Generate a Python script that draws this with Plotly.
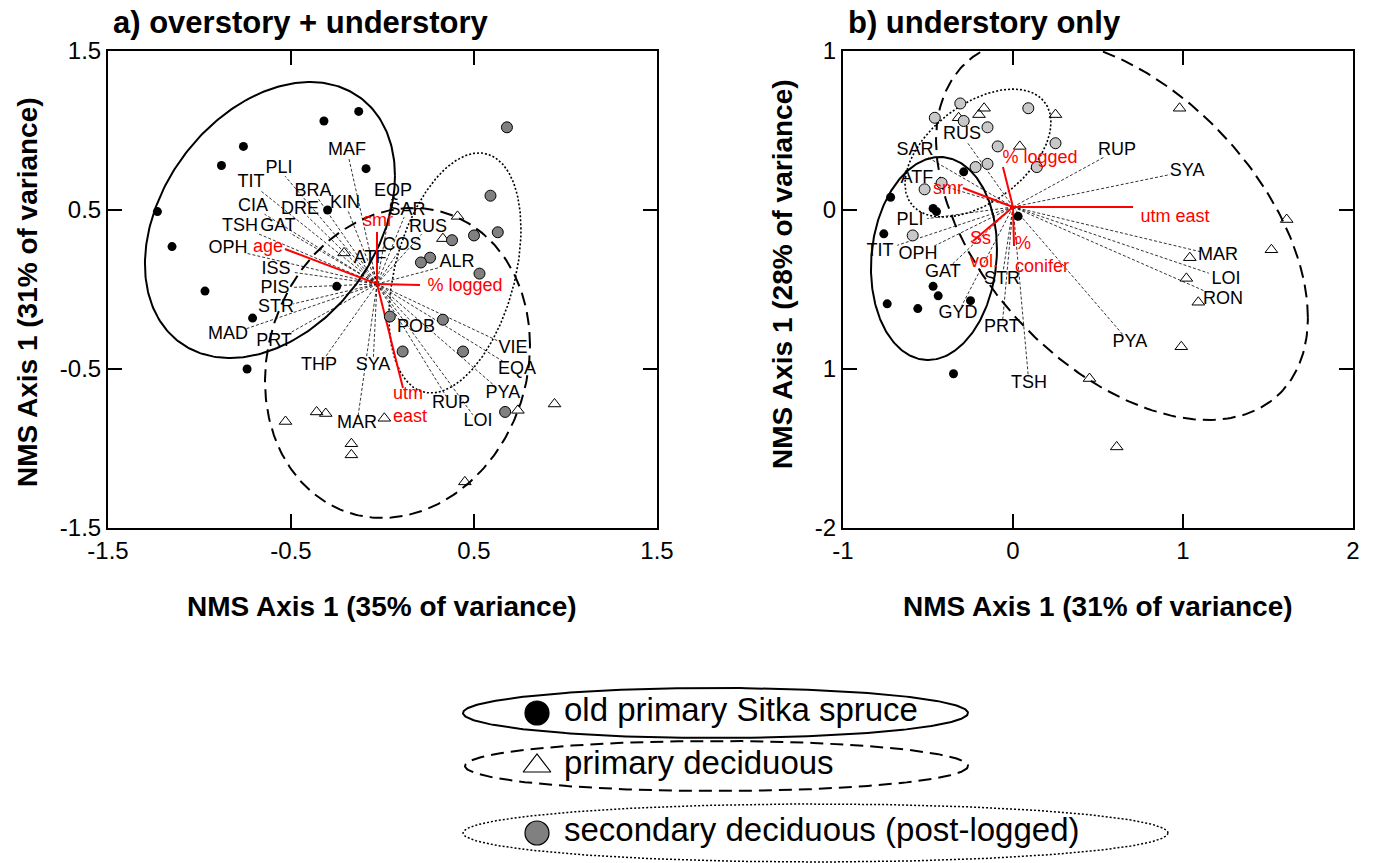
import numpy as np
import plotly.graph_objects as go

W, H = 1379, 863
FONT = "Liberation Sans, Arial, sans-serif"

# ---------------- Panel a: overstory + understory ----------------
a_old_x = [-0.13, -0.32, -0.76, -0.88, -0.09, -0.30, -1.23, -1.15, -0.97, -0.25, -0.71, -0.74]
a_old_y = [1.12, 1.06, 0.90, 0.78, 0.76, 0.50, 0.49, 0.27, -0.01, 0.02, -0.18, -0.50]
a_pri_x = [0.41, 0.33, -0.21, -0.53, -0.36, -0.31, 0.01, -0.17, -0.17, 0.45, 0.74, 0.94]
a_pri_y = [0.46, 0.32, 0.23, -0.83, -0.77, -0.78, -0.81, -0.97, -1.04, -1.21, -0.76, -0.72]
a_sec_x = [0.68, 0.59, 0.63, 0.50, 0.38, 0.26, 0.21, 0.53, 0.04, 0.33, 0.11, 0.44, 0.67]
a_sec_y = [1.02, 0.59, 0.36, 0.34, 0.31, 0.20, 0.17, 0.10, -0.17, -0.19, -0.39, -0.39, -0.77]

a_origin = (-0.03, 0.035)
a_species = ["MAF", "PLI", "TIT", "BRA", "KIN", "CIA", "DRE", "EQP", "SAR", "TSH", "GAT", "RUS",
             "COS", "OPH", "ATF", "ALR", "ISS", "PIS", "STR", "MAD", "PRT", "POB", "THP", "SYA",
             "VIE", "EQA", "PYA", "RUP", "MAR", "LOI"]
a_species_x = [-0.194, -0.566, -0.719, -0.380, -0.205, -0.708, -0.451, 0.057, 0.134, -0.779, -0.571, 0.249,
               0.107, -0.844, -0.068, 0.407, -0.582, -0.587, -0.582, -0.844, -0.593, 0.183, -0.347, -0.052,
               0.713, 0.735, 0.658, 0.374, -0.139, 0.522]
a_species_y = [0.877, 0.758, 0.670, 0.619, 0.544, 0.519, 0.506, 0.615, 0.500, 0.399, 0.399, 0.393,
               0.274, 0.255, 0.198, 0.167, 0.123, 0.009, -0.116, -0.286, -0.330, -0.236, -0.481, -0.481,
               -0.368, -0.506, -0.651, -0.720, -0.840, -0.833]

a_env = ["age", "smr", "% logged", "utm<br>east"]
a_env_x = [-0.533, -0.030, 0.205, 0.112]
a_env_y = [0.255, 0.362, 0.028, -0.619]
a_env_lab_x = [-0.626, -0.025, 0.451, 0.057]
a_env_lab_y = [0.267, 0.425, 0.016, -0.733]
a_env_pos = ["middle center", "middle center", "middle center", "middle right"]

# ellipses: centre (x, y) and shape matrix (sxx, syy, sxy)
a_ell_old = [(-0.615, 0.437), (0.4666, 0.7533, 0.1897)]
a_ell_pri = [(0.082, -0.462), (0.5242, 0.9503, 0.0820)]
a_ell_sec = [(0.396, 0.104), (0.1301, 0.5696, 0.0990)]

# ---------------- Panel b: understory only ----------------
b_old_x = [-0.29, -0.72, -0.47, -0.45, -0.76, 0.03, -0.47, -0.44, -0.74, -0.56, -0.25, -0.35]
b_old_y = [0.24, 0.08, 0.01, -0.01, -0.15, -0.04, -0.48, -0.54, -0.59, -0.62, -0.57, -1.03]
b_pri_x = [-0.17, -0.20, -0.32, 0.25, 0.04, 0.98, 1.61, 1.52, 1.04, 1.02, 1.09, 0.99, 0.45, 0.61]
b_pri_y = [0.64, 0.60, 0.58, 0.60, 0.40, 0.64, -0.06, -0.25, -0.30, -0.43, -0.58, -0.86, -1.06, -1.49]
b_sec_x = [-0.31, -0.46, -0.29, -0.15, 0.09, -0.09, 0.25, -0.22, -0.15, 0.14, -0.42, -0.52, -0.59]
b_sec_y = [0.67, 0.58, 0.56, 0.52, 0.64, 0.40, 0.42, 0.27, 0.29, 0.27, 0.17, 0.13, -0.16]

b_origin = (0.0, 0.019)
b_species = ["RUS", "SAR", "RUP", "SYA", "ATF", "PLI", "TIT", "OPH", "GAT", "STR", "MAR", "LOI",
             "RON", "GYD", "PRT", "PYA", "TSH"]
b_species_x = [-0.300, -0.576, 0.612, 1.024, -0.565, -0.606, -0.782, -0.559, -0.412, -0.065, 1.206, 1.253,
               1.235, -0.324, -0.065, 0.688, 0.094]
b_species_y = [0.472, 0.377, 0.377, 0.245, 0.201, -0.069, -0.258, -0.277, -0.396, -0.434, -0.289, -0.434,
               -0.560, -0.648, -0.742, -0.836, -1.094]

b_env = ["smr", "% logged", "utm east", "Ss<br>vol.", "%<br>conifer"]
b_env_x = [-0.294, -0.059, 0.706, -0.235, 0.006]
b_env_y = [0.138, 0.270, 0.019, -0.195, -0.226]
b_env_lab_x = [-0.382, 0.159, 0.953, -0.253, 0.012]
b_env_lab_y = [0.132, 0.321, -0.044, -0.258, -0.289]
b_env_pos = ["middle center", "middle center", "middle center", "middle right", "middle right"]

b_ell_old = [(-0.465, -0.305), (0.1373, 0.4075, 0.0222)]
b_ell_pri = [(0.641, -0.1195), (1.1958, 1.4426, -0.6081)]
b_ell_sec = [(-0.206, 0.358), (0.1844, 0.1620, 0.0829)]

# ---------------- Legend ----------------
legend_labels = ["old primary Sitka spruce", "primary deciduous", "secondary deciduous (post-logged)"]

# ---------------- layout geometry ----------------
xa_dom = [108 / W, 657 / W]
xb_dom = [843 / W, 1353 / W]
y_dom = [1 - 528 / H, 1 - 51 / H]
xa_rng, ya_rng = [-1.5, 1.5], [-1.5, 1.5]
xb_rng, yb_rng = [-1.0, 2.0], [-2.0, 1.0]
LEG_TOP = 660  # pixel row where legend area begins

SP_FS = 18
RED = "#ff0000"


def ellipse(ell, n=300):
    (cx, cy), (sxx, syy, sxy) = ell
    L = np.linalg.cholesky(np.array([[sxx, sxy], [sxy, syy]]))
    t = np.linspace(0, 2 * np.pi, n)
    p = L @ np.vstack([np.cos(t), np.sin(t)])
    return list(cx + p[0]), list(cy + p[1])


def species_lines(origin, xs, ys, names, xdom, xr, yr):
    sx = (xdom[1] - xdom[0]) * W / (xr[1] - xr[0])
    sy = (y_dom[1] - y_dom[0]) * H / (yr[1] - yr[0])
    lx, ly = [], []
    for x, y, nm in zip(xs, ys, names):
        dx = (origin[0] - x) * sx
        dy = (origin[1] - y) * sy
        hw = 0.30 * SP_FS * len(nm) + 1
        hh = 0.40 * SP_FS
        t = min(hw / abs(dx) if dx else 1e9, hh / abs(dy) if dy else 1e9)
        t = min(t, 1.0)
        ex = x + (origin[0] - x) * t
        ey = y + (origin[1] - y) * t
        lx += [origin[0], ex, None]
        ly += [origin[1], ey, None]
    return lx, ly


fig = go.Figure()


def add_panel(xref, yref, origin, sp, spx, spy, env, ex, ey, elx, ely, epos,
              ells, old, pri, sec, sec_color, xdom, xr, yr):
    lx, ly = species_lines(origin, spx, spy, sp, xdom, xr, yr)
    fig.add_trace(go.Scatter(x=lx, y=ly, mode="lines", xaxis=xref, yaxis=yref,
                             line=dict(color="black", width=0.8, dash="3px,2px"),
                             hoverinfo="skip", showlegend=False))
    styles = [dict(dash="solid", width=2), dict(dash="13px,7px", width=2), dict(dash="2px,2px", width=1.6)]
    for ell, st in zip(ells, styles):
        x, y = ellipse(ell)
        fig.add_trace(go.Scatter(x=x, y=y, mode="lines", xaxis=xref, yaxis=yref,
                                 line=dict(color="black", **st), hoverinfo="skip", showlegend=False))
    vx, vy = [], []
    for x, y in zip(ex, ey):
        vx += [origin[0], x, None]
        vy += [origin[1], y, None]
    fig.add_trace(go.Scatter(x=vx, y=vy, mode="lines", xaxis=xref, yaxis=yref,
                             line=dict(color=RED, width=2), hoverinfo="skip", showlegend=False))
    fig.add_trace(go.Scatter(x=old[0], y=old[1], mode="markers", xaxis=xref, yaxis=yref,
                             marker=dict(symbol="circle", size=9, color="black"), showlegend=False))
    fig.add_trace(go.Scatter(x=pri[0], y=pri[1], mode="markers", xaxis=xref, yaxis=yref,
                             marker=dict(symbol="triangle-up-open", size=11, color="black",
                                         line=dict(width=1, color="black")), showlegend=False))
    fig.add_trace(go.Scatter(x=sec[0], y=sec[1], mode="markers", xaxis=xref, yaxis=yref,
                             marker=dict(symbol="circle", size=11, color=sec_color,
                                         line=dict(width=1, color="black")), showlegend=False))
    fig.add_trace(go.Scatter(x=spx, y=spy, text=sp, mode="text", xaxis=xref, yaxis=yref,
                             textposition="middle center",
                             textfont=dict(family=FONT, size=SP_FS, color="black"),
                             hoverinfo="skip", showlegend=False))
    fig.add_trace(go.Scatter(x=elx, y=ely, text=env, mode="text", xaxis=xref, yaxis=yref,
                             textposition=epos,
                             textfont=dict(family=FONT, size=SP_FS, color=RED),
                             hoverinfo="skip", showlegend=False))


add_panel("x", "y", a_origin, a_species, a_species_x, a_species_y, a_env, a_env_x, a_env_y,
          a_env_lab_x, a_env_lab_y, a_env_pos, [a_ell_old, a_ell_pri, a_ell_sec],
          (a_old_x, a_old_y), (a_pri_x, a_pri_y), (a_sec_x, a_sec_y), "#808080", xa_dom, xa_rng, ya_rng)
add_panel("x2", "y2", b_origin, b_species, b_species_x, b_species_y, b_env, b_env_x, b_env_y,
          b_env_lab_x, b_env_lab_y, b_env_pos, [b_ell_old, b_ell_pri, b_ell_sec],
          (b_old_x, b_old_y), (b_pri_x, b_pri_y), (b_sec_x, b_sec_y), "#c8c8c8", xb_dom, xb_rng, yb_rng)

# ---------------- legend drawn on a hidden pixel-space axis ----------------
leg_cx = [715.5, 716.5, 815.5]
leg_cy = [713, 766, 833]
leg_rx = [252.5, 251.5, 352.5]
leg_ry = [25, 25, 29]
leg_dash = ["solid", "13px,7px", "2px,2px"]
leg_width = [2, 2, 1.5]
leg_sym = ["circle", "triangle-up-open", "circle"]
leg_col = ["black", "black", "#808080"]
t = np.linspace(0, 2 * np.pi, 300)
for i in range(3):
    fig.add_trace(go.Scatter(x=list(leg_cx[i] + leg_rx[i] * np.cos(t)),
                             y=list(leg_cy[i] + leg_ry[i] * np.sin(t)),
                             mode="lines", xaxis="x3", yaxis="y3",
                             line=dict(color="black", width=leg_width[i], dash=leg_dash[i]),
                             hoverinfo="skip", showlegend=False))
    fig.add_trace(go.Scatter(x=[537], y=[leg_cy[i]], mode="markers", xaxis="x3", yaxis="y3",
                             marker=dict(symbol=leg_sym[i], size=24, color=leg_col[i],
                                         line=dict(width=1.2, color="black")),
                             hoverinfo="skip", showlegend=False))
    fig.add_trace(go.Scatter(x=[564], y=[leg_cy[i]], text=[legend_labels[i]], mode="text",
                             xaxis="x3", yaxis="y3", textposition="middle right",
                             textfont=dict(family=FONT, size=33, color="black"),
                             hoverinfo="skip", showlegend=False))

axis_common = dict(showgrid=False, zeroline=False, showline=True, linecolor="black", linewidth=2,
                   mirror="ticks", ticks="inside", ticklen=14, tickwidth=1.5, tickcolor="black",
                   tickfont=dict(family=FONT, size=24, color="black"))

fig.update_layout(
    width=W, height=H, margin=dict(l=0, r=0, t=0, b=0, autoexpand=False),
    paper_bgcolor="white", plot_bgcolor="rgba(0,0,0,0)", showlegend=False,
    xaxis=dict(domain=xa_dom, range=xa_rng, tickvals=[-1.5, -0.5, 0.5, 1.5],
               ticktext=["-1.5", "-0.5", "0.5", "1.5"], anchor="y", **axis_common),
    yaxis=dict(domain=y_dom, range=ya_rng, tickvals=[-1.5, -0.5, 0.5, 1.5],
               ticktext=["-1.5", "-0.5", "0.5", "1.5"], anchor="x", **axis_common),
    xaxis2=dict(domain=xb_dom, range=xb_rng, tickvals=[-1, 0, 1, 2],
                ticktext=["-1", "0", "1", "2"], anchor="y2", **axis_common),
    yaxis2=dict(domain=y_dom, range=yb_rng, tickvals=[-2, -1, 0, 1],
                ticktext=["-2", "1", "0", "1"], anchor="x2", **axis_common),
    xaxis3=dict(domain=[0, 1], range=[0, W], visible=False, anchor="y3"),
    yaxis3=dict(domain=[0, (H - LEG_TOP) / H], range=[H, LEG_TOP], visible=False, anchor="x3"),
)

title_font = dict(family=FONT, size=31, color="black")
axt_font = dict(family=FONT, size=28, color="black")
fig.add_annotation(text="<b>a) overstory + understory</b>", xref="paper", yref="paper",
                   x=111 / W, y=1 - 22 / H, xanchor="left", yanchor="middle", showarrow=False, font=title_font)
fig.add_annotation(text="<b>b) understory only</b>", xref="paper", yref="paper",
                   x=846 / W, y=1 - 22 / H, xanchor="left", yanchor="middle", showarrow=False, font=title_font)
fig.add_annotation(text="<b>NMS Axis 1 (35% of variance)</b>", xref="paper", yref="paper",
                   x=382 / W, y=1 - 606 / H, xanchor="center", yanchor="middle", showarrow=False, font=axt_font)
fig.add_annotation(text="<b>NMS Axis 1 (31% of variance)</b>", xref="paper", yref="paper",
                   x=1098 / W, y=1 - 606 / H, xanchor="center", yanchor="middle", showarrow=False, font=axt_font)
fig.add_annotation(text="<b>NMS Axis 1 (31% of variance)</b>", xref="paper", yref="paper",
                   x=28 / W, y=1 - 292 / H, xanchor="center", yanchor="middle", textangle=-90,
                   showarrow=False, font=axt_font)
fig.add_annotation(text="<b>NMS Axis 1 (28% of variance)</b>", xref="paper", yref="paper",
                   x=782 / W, y=1 - 274 / H, xanchor="center", yanchor="middle", textangle=-90,
                   showarrow=False, font=axt_font)

fig.write_html("out.html")
